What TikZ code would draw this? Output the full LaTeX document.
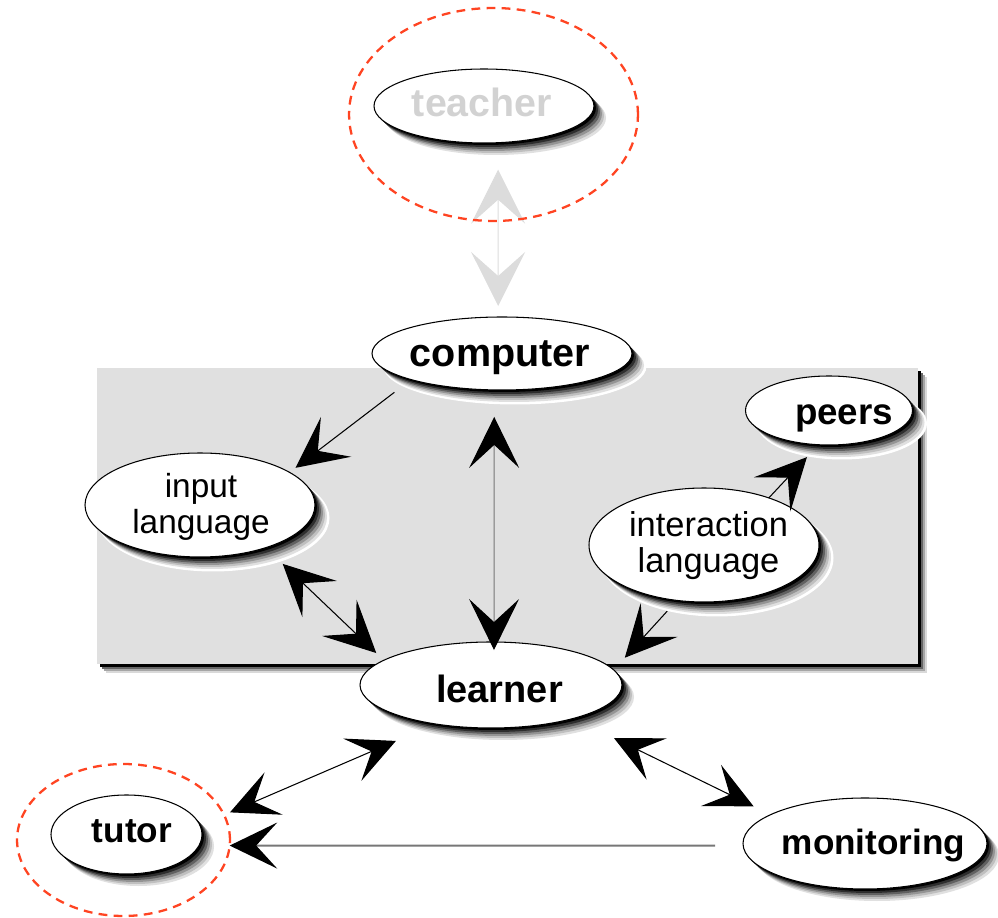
\documentclass[tikz,border=0pt]{standalone}
\usepackage{fontspec}
\setmainfont{Liberation Sans}
\usetikzlibrary{arrows.meta,shapes.geometric}
\pgfdeclarelayer{front}
\pgfsetlayers{main,front}
\definecolor{panelgray}{HTML}{E0E0E0}
\definecolor{ghost}{HTML}{D2D2D2}
\definecolor{ghostarrow}{HTML}{DCDCDC}
\definecolor{halo}{HTML}{FF4422}
\definecolor{midgray}{HTML}{777777}

% shadowed ellipse: name, x, y (downwards), x radius, y radius
\newcommand\bubble[5]{%
  \fill[white] (#2+13,-#3-13) ellipse [x radius=#4+1.5, y radius=#5+1.5];
  \foreach \k/\col in {12/black!12,10/black!25,8/black!42,6/black!62,4/black!82,2/black}
    \fill[\col] (#2+\k,-#3-\k) ellipse [x radius=#4, y radius=#5];
  \node[bubblenode, minimum width={2*#4*0.02cm}, minimum height={2*#5*0.02cm}] (#1) at (#2,-#3) {};
}

\tikzset{
  bubblenode/.style={ellipse, draw=black, fill=white, line width=0.6pt, inner sep=0pt, outer sep=0pt},
  bold/.style={anchor=base, font=\bfseries\fontsize{#1}{#1}\selectfont},
  plain/.style={align=center, font=\fontsize{#1}{20.5}\selectfont},
  halonode/.style={ellipse, draw=halo, line width=1.3pt, dash pattern=on 5pt off 3.6pt, inner sep=0pt, outer sep=0pt},
  headL/.tip={Stealth[length=1.02cm, width=1.0cm, inset=0.46cm]},
  headS/.tip={Stealth[length=0.95cm, width=0.92cm, inset=0.42cm]},
  headT/.tip={Stealth[length=1.08cm, width=1.08cm, inset=0.48cm]},
  link/.style={line width=0.6pt, black},
}

\begin{document}
\begin{tikzpicture}[x=0.02cm, y=0.02cm]
\useasboundingbox (0,0) rectangle (998,-918);

% grey panel with its drop shadow
\foreach \k/\col in {9/black!15,7/black!35,5/black!60,3/black}
  \fill[\col] (97+\k,-368-\k) rectangle (918+\k,-664-\k);
\fill[panelgray] (97,-368) rectangle (918,-664);

% nodes
\bubble{TE}{484}{106}{110}{37}
\node[bold=22.4, text=ghost] (tTE) at (482,-117) {teacher};

\bubble{C}{502}{353.5}{130}{36.5}
\node[bold=22.5] (tC) at (500,-367) {computer};

\bubble{I}{200}{505}{115}{52}
\node[plain=19] (tI) at (201,-506.5) {input\\language};

\bubble{P}{829}{410.5}{83.5}{34.5}
\node[bold=20.9] (tP) at (844,-425) {peers};

\bubble{X}{704}{545}{115}{57}
\node[plain=19.6] (tX) at (708.5,-545.5) {interaction\\language};

\bubble{L}{491}{685}{131}{43}
\node[bold=21.6] (tL) at (499.5,-703) {learner};

\bubble{U}{126.5}{834.5}{75.5}{39.5}
\node[bold=20] (tU) at (132,-843) {tutor};

\bubble{M}{865}{843.5}{122}{45.5}
\node[bold=20] (tM) at (873.5,-854) {monitoring};

% dashed rings, kept above the connectors
\begin{pgfonlayer}{front}
  \node[halonode, minimum width=5.78cm, minimum height=4.26cm] (TR) at (493.5,-114.5) {};
  \node[halonode, minimum width=4.26cm, minimum height=3.04cm] (UR) at (123.5,-840) {};
\end{pgfonlayer}

% connectors
\draw[line width=0.6pt, ghostarrow, {headT}-{headT}, shorten <=0.54cm, shorten >=0.22cm] (TE.291) -- (C.96);
\draw[link, -{headL}, shorten <=0.42cm, shorten >=0.15cm] (C.196) -- (I.20);
\draw[link, {headL}-{headL}, shorten <=0.47cm, shorten >=0.21cm] (I.327) -- (L.167);
\draw[line width=0.6pt, midgray, {headL[black]}-{headL[black]}, shorten <=0.54cm, shorten >=-0.16cm] (C.258) -- (L.86);
\draw[link, -{headL}, shorten >=0.34cm] (X.36) -- (P.253);
\draw[link, -{headL}, shorten <=0.29cm, shorten >=0.33cm] (X.244) -- (L.7);
\draw[link, {headS}-{headS}, shorten <=0.86cm, shorten >=0.13cm] (L.215) -- (UR.14);
\draw[link, {headS}-{headS}, shorten <=0.9cm, shorten >=0.38cm] (L.338) -- (M.163);
\draw[line width=1.1pt, midgray, -{headS[black]}, shorten <=0.56cm] (M.181) -- (UR.357);
\end{tikzpicture}
\end{document}
